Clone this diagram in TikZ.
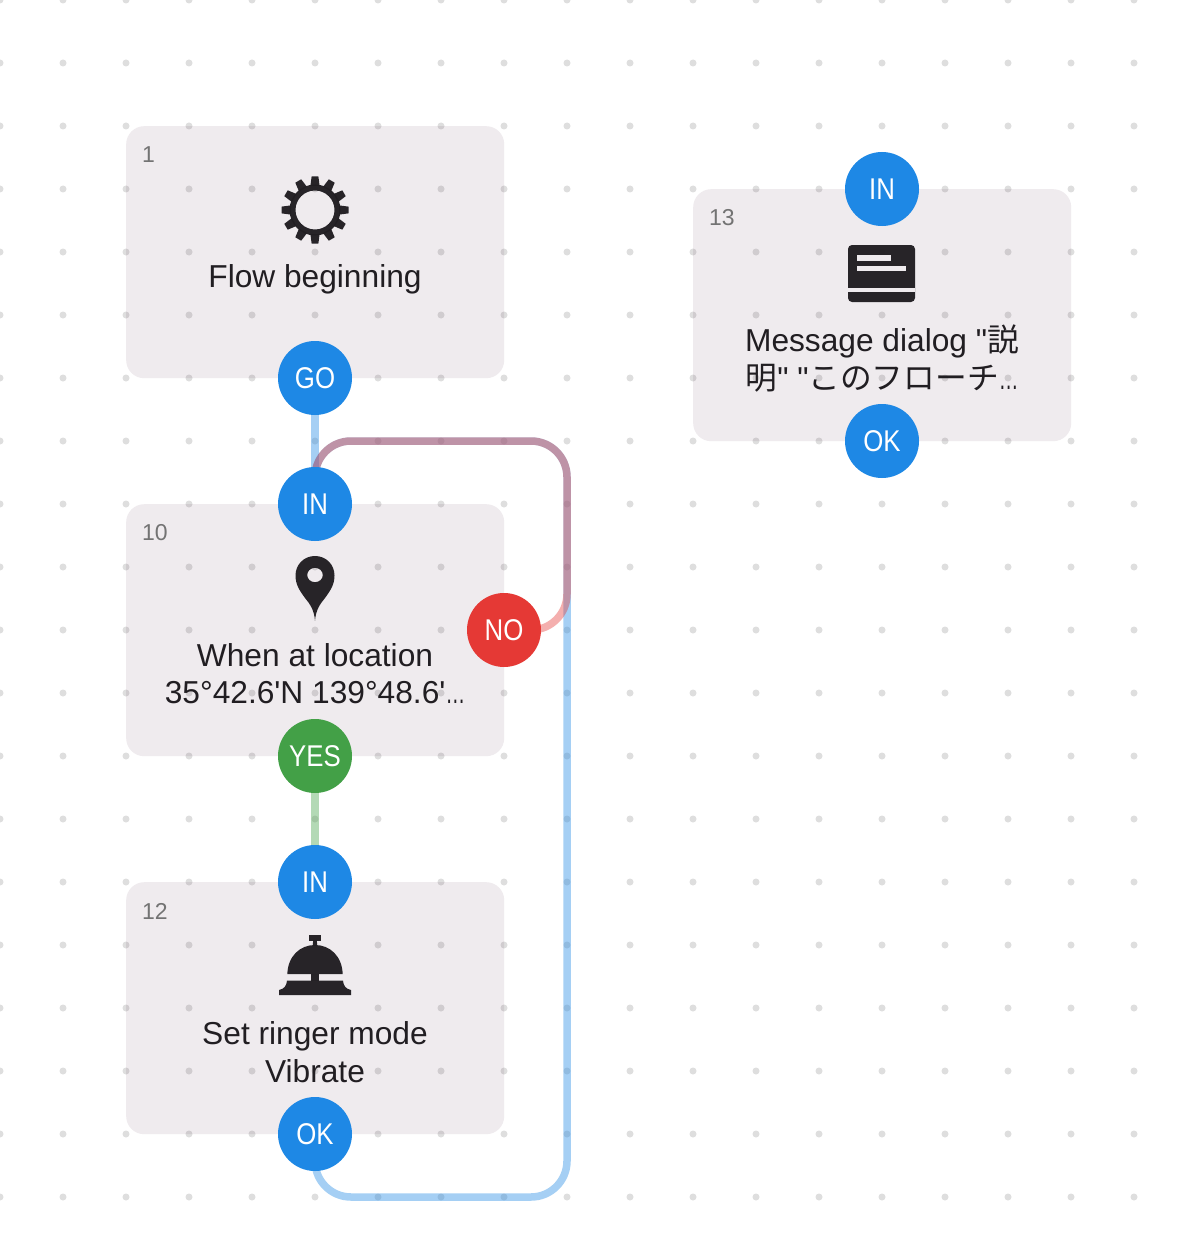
\documentclass[tikz,border=0pt]{standalone}
\usepackage{graphicx}
\usepackage{fontspec}
\setmainfont{Liberation Sans}[Ligatures=TeXOff]
\newfontfamily\cjk{Noto Sans CJK JP}[Ligatures=TeXOff]
\pgfdeclarelayer{cardlayer}
\pgfdeclarelayer{dotlayer}
\pgfdeclarelayer{connlayer}
\pgfsetlayers{cardlayer,dotlayer,connlayer,main}
\definecolor{cardcol}{HTML}{EFEBEE}
\definecolor{bluecol}{HTML}{1E88E5}
\definecolor{redcol}{HTML}{E53935}
\definecolor{greencol}{HTML}{43A047}
\definecolor{inkcol}{HTML}{211E22}
\newcommand{\lbl}{\fontsize{31.7}{37.5}\selectfont}
\newcommand{\plbl}[1]{\scalebox{.86}[1]{#1}}
\newcommand{\tightdots}{\scalebox{.62}[1]{…}}
\tikzset{
  x=1pt,y=-1pt,
  card/.style={fill=cardcol,draw=none,rounded corners=18pt,minimum width=378pt,minimum height=252pt,inner sep=0pt,anchor=north west},
  port/.style={circle,draw=none,fill=#1,minimum size=74pt,inner sep=0pt,text=white,font=\fontsize{30}{30}\selectfont},
  caption/.style={align=center,text=inkcol,font=\lbl,inner sep=0pt},
  idlabel/.style={text=black!55,font=\fontsize{23}{23}\selectfont,inner sep=0pt,anchor=west},
  conn/.style={line width=7.5pt,draw=#1,draw opacity=.4,rounded corners=36pt},
  griddot/.style={fill=black,fill opacity=.13},
  icon/.style={fill=inkcol,fill opacity=.97,draw=none}
}
\begin{document}
\begin{tikzpicture}
\useasboundingbox (0,0) rectangle (1197,1260);

% ports
\node[port=bluecol] (go) at (315,378) {\plbl{GO}};
\node[port=bluecol] (in10) at (315,504) {\plbl{IN}};
\node[port=redcol] (no) at (504,630) {\plbl{NO}};
\node[port=greencol] (yes) at (315,756) {\plbl{YES}};
\node[port=bluecol] (in12) at (315,882) {\plbl{IN}};
\node[port=bluecol] (ok12) at (315,1134) {\plbl{OK}};
\node[port=bluecol] (in13) at (882,189) {\plbl{IN}};
\node[port=bluecol] (ok13) at (882,441) {\plbl{OK}};

% route corners
\coordinate (a) at (315,1197);
\coordinate (b) at (567,1197);
\coordinate (c) at (567,441);
\coordinate (d) at (315,441);
\coordinate (e) at (567,630);

\begin{pgfonlayer}{cardlayer}
\fill[white] (0,0) rectangle (1197,1260);
\node[card] (c1) at (126,126) {};
\node[card] (c10) at (126,504) {};
\node[card] (c12) at (126,882) {};
\node[card] (c13) at (693,189) {};
\end{pgfonlayer}

\begin{pgfonlayer}{dotlayer}
\foreach \i in {0,...,18} \foreach \j in {0,...,19}
  \fill[griddot] (63*\i,63*\j) circle[radius=3.5];
\end{pgfonlayer}

\begin{pgfonlayer}{connlayer}
\draw[conn=bluecol] (go.center) -- (in10.center);
\draw[conn=greencol] (yes.center) -- (in12.center);
\draw[conn=bluecol] (ok12.center) -- (a) -- (b) -- (c) -- (d) -- (in10.center);
\draw[conn=redcol] (no.center) -- (e) -- (c) -- (d) -- (in10.center);
\end{pgfonlayer}

% gear
\fill[icon,even odd rule] (315,210) circle[radius=25.5] (315,210) circle[radius=19.5];
\foreach \a in {0,30,...,330}
  \fill[icon,shift={(315,210)},rotate=\a] (24,-4.6) -- (33.5,-3.4) -- (33.5,3.4) -- (24,4.6) -- cycle;

% pin
\fill[icon,even odd rule] (315,620.8) .. controls (315.8,610) and (320,604) .. (325,598)
  .. controls (330,591) and (334.5,585) .. (334.5,575.5)
  .. controls (334.5,564.5) and (326,556) .. (315,556)
  .. controls (304,556) and (295.5,564.5) .. (295.5,575.5)
  .. controls (295.5,585) and (300,591) .. (305,598)
  .. controls (310,604) and (314.2,610) .. (315,620.8) -- cycle
  (315,575) ellipse[x radius=7.8,y radius=7.2];

% bell
\fill[icon] (309,935) rectangle (321,940.5);
\fill[icon] (313,940) rectangle (317,946);
\fill[icon] (287.3,974) .. controls (288,956) and (300,945) .. (315,945)
  .. controls (330,945) and (342,956) .. (342.7,974) -- cycle;
\fill[icon] (311,974) rectangle (319,981);
\fill[icon] (287,980.7) -- (343,980.7) .. controls (343.5,986) and (346,989) .. (351,990)
  -- (351,995) -- (279,995) -- (279,990) .. controls (284,989) and (286.5,986) .. (287,980.7) -- cycle;

% message icon
\fill[icon,rounded corners=4pt] (848,245) rectangle (915,302);
\fill[cardcol] (848,288) rectangle (915,292);
\fill[cardcol] (857,255) rectangle (891.3,260.7);
\fill[cardcol] (857,266) rectangle (906,271);

% labels
\node[idlabel] (id1) at (142,155) {1};
\node[idlabel] (id10) at (142,533) {10};
\node[idlabel] (id12) at (142,911) {12};
\node[idlabel] (id13) at (709,218) {13};

\node[caption] (t1) at (315,279) {Flow beginning};
\node[caption] (t10) at (315,673.5) {When at location\\35°42.6'N 139°48.6'\tightdots};
\node[caption] (t12) at (315,1052) {Set ringer mode\\Vibrate};
\node[caption] (t13) at (882,358.5) {Message dialog "{\cjk 説}\\{\cjk 明}" "{\cjk このフローチ}\tightdots};
\end{tikzpicture}
\end{document}
